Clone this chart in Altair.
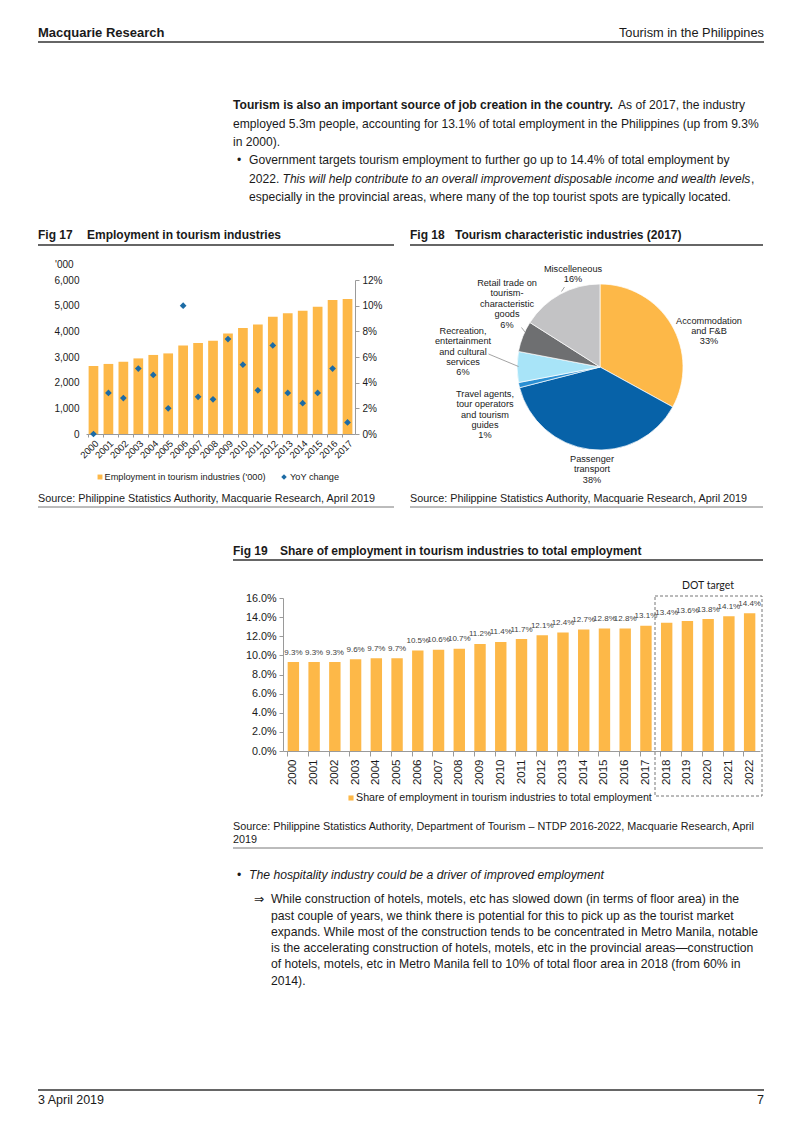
import altair as alt
import pandas as pd

# ---------------- data ----------------
years_17 = ["2000", "2001", "2002", "2003", "2004", "2005", "2006", "2007", "2008",
            "2009", "2010", "2011", "2012", "2013", "2014", "2015", "2016", "2017"]
employment_000 = [2650, 2730, 2815, 2945, 3080, 3140, 3450, 3545, 3635,
                  3920, 4130, 4270, 4570, 4700, 4805, 4960, 5220, 5260]
yoy_change_pct = [0.0, 3.2, 2.8, 5.1, 4.6, 2.0, 10.0, 2.9, 2.7,
                  7.4, 5.4, 3.4, 6.9, 3.2, 2.4, 3.2, 5.1, 0.9]
left_ticks_17 = [0, 1000, 2000, 3000, 4000, 5000, 6000]
right_ticks_17 = [0, 0.02, 0.04, 0.06, 0.08, 0.10, 0.12]

pie_categories = ["Accommodation and F&B", "Passenger transport",
                  "Travel agents, tour operators and tourism guides",
                  "Recreation, entertainment and cultural services",
                  "Retail trade on tourism-characteristic goods", "Miscelleneous"]
pie_shares = [33, 38, 1, 6, 6, 16]
pie_order = [0, 1, 2, 3, 4, 5]

years_19 = ["2000", "2001", "2002", "2003", "2004", "2005", "2006", "2007", "2008",
            "2009", "2010", "2011", "2012", "2013", "2014", "2015", "2016", "2017",
            "2018", "2019", "2020", "2021", "2022"]
share_pct = [9.3, 9.3, 9.3, 9.6, 9.7, 9.7, 10.5, 10.6, 10.7, 11.2, 11.4, 11.7,
             12.1, 12.4, 12.7, 12.8, 12.8, 13.1, 13.4, 13.6, 13.8, 14.1, 14.4]
ticks_19 = [0, 0.02, 0.04, 0.06, 0.08, 0.10, 0.12, 0.14, 0.16]

# ---------------- style ----------------
FONT = "Liberation Sans, Arial, DejaVu Sans, sans-serif"
INK = "#1a1a1a"
ORANGE = "#FDB848"
BLUE = "#1C6BA5"
PIE_COLORS = ["#FDB848", "#0762A8", "#2A8FD3", "#A8E4F8", "#6E6F71", "#C3C3C5"]
AXIS_GRAY = "#9a9a9a"
BODY = 12.1
BODY2 = 12.2

W, H = 786, 1117
M = 8


def X(px):
    return px - M


def Y(py):
    return py - M


one = pd.DataFrame({"k": [0]})


def txt(s, px, py, size=BODY, weight="normal", style="normal", align="left",
        baseline="middle", color=INK, font=FONT, **kw):
    return alt.Chart(one).mark_text(
        text=s, font=font, fontSize=size, fontWeight=weight, fontStyle=style,
        align=align, baseline=baseline, color=color, **kw
    ).encode(x=alt.value(X(px)), y=alt.value(Y(py)))


def hrule(x1, x2, py, color="#333333", w=1.0):
    return alt.Chart(one).mark_rule(color=color, strokeWidth=w).encode(
        x=alt.value(X(x1)), x2=alt.value(X(x2)), y=alt.value(Y(py)))


def seg(x1, y1, x2, y2, color="#8c8c8c", w=0.8):
    return alt.Chart(one).mark_rule(color=color, strokeWidth=w).encode(
        x=alt.value(X(x1)), x2=alt.value(X(x2)), y=alt.value(Y(y1)), y2=alt.value(Y(y2)))


layers = []

# ---------------- page header & intro ----------------
layers += [
    txt("Macquarie Research", 38, 33, size=13, weight="bold"),
    txt("Tourism in the Philippines", 764, 33, size=12.8, align="right"),
    hrule(38, 764, 42, w=1.5),
    txt("Tourism is also an important source of job creation in the country.", 233, 105, weight="bold"),
    txt("As of 2017, the industry", 618, 105),
    txt("employed 5.3m people, accounting for 13.1% of total employment in the Philippines (up from 9.3%", 233, 123.5),
    txt("in 2000).", 233, 142),
    txt("•", 237, 160),
    txt("Government targets tourism employment to further go up to 14.4% of total employment by", 249, 160),
    txt("2022.", 249, 178.5),
    txt("This will help contribute to an overall improvement disposable income and wealth levels", 282.5, 178.5, style="italic"),
    txt(",", 751, 178.5),
    txt("especially in the provincial areas, where many of the top tourist spots are typically located.", 249, 197),
    # figure titles
    txt("Fig 17", 38, 235, size=12, weight="bold"),
    txt("Employment in tourism industries", 87, 235, size=12, weight="bold"),
    hrule(38, 394, 245, w=1.3),
    txt("Fig 18", 410, 235, size=12, weight="bold"),
    txt("Tourism characteristic industries (2017)", 455, 235, size=12, weight="bold"),
    hrule(410, 763, 245, w=1.3),
    txt("'000", 55, 265, size=10),
]

# ---------------- Fig 17 ----------------
df17 = pd.DataFrame({"year": years_17, "emp": employment_000,
                     "yoy": [v / 100 for v in yoy_change_pct]})
x17 = alt.Scale(domain=years_17, range=[X(86), X(355)], paddingInner=0.35, paddingOuter=0.175)
bars17 = alt.Chart(df17).mark_bar(color=ORANGE).encode(
    x=alt.X("year:O", scale=x17, axis=alt.Axis(
        title=None, orient="bottom", offset=Y(434) - H, labelAngle=-45, labelFontSize=9.5,
        labelFont=FONT, labelColor=INK, domainColor=AXIS_GRAY, tickColor=AXIS_GRAY,
        tickSize=3, bandPosition=0, labelPadding=1, labelOverlap=False)),
    y=alt.Y("emp:Q", scale=alt.Scale(domain=[0, 6000], range=[Y(434), Y(280)], nice=False),
            axis=alt.Axis(title=None, orient="left", offset=-X(86), values=left_ticks_17,
                          format=",.0f", domain=False, ticks=False, grid=False, labelPadding=7,
                          labelFontSize=10, labelFont=FONT, labelColor=INK)),
)
pts17 = alt.Chart(df17).mark_point(shape="diamond", filled=True, size=45, color=BLUE, opacity=1).encode(
    x=alt.X("year:O", scale=x17, axis=None),
    y=alt.Y("yoy:Q", scale=alt.Scale(domain=[0, 0.12], range=[Y(434), Y(280)], nice=False),
            axis=alt.Axis(title=None, orient="right", offset=X(355) - W, values=right_ticks_17,
                          format=".0%", domainColor=AXIS_GRAY, tickColor=AXIS_GRAY, tickSize=4,
                          labelPadding=3, grid=False, labelFontSize=10, labelFont=FONT,
                          labelColor=INK)),
)
layers += [bars17, pts17]
layers += [
    alt.Chart(one).mark_square(color=ORANGE, size=24, opacity=1).encode(x=alt.value(X(100)), y=alt.value(Y(477))),
    txt("Employment in tourism industries ('000)", 104.5, 477, size=9.2),
    alt.Chart(one).mark_point(shape="diamond", filled=True, color=BLUE, size=30, opacity=1).encode(x=alt.value(X(284)), y=alt.value(Y(477))),
    txt("YoY change", 290, 477, size=9.2),
]

# ---------------- Fig 18 (pie) ----------------
dfpie = pd.DataFrame({"cat": pie_categories, "share": pie_shares, "ord": pie_order})
arc = alt.Chart(dfpie).mark_arc(radius=83, stroke="white", strokeWidth=0.7).encode(
    theta=alt.Theta("share:Q", stack=True),
    order=alt.Order("ord:Q"),
    color=alt.Color("cat:N", scale=alt.Scale(domain=pie_categories, range=PIE_COLORS), legend=None),
    x=alt.value(X(600)), y=alt.value(Y(367)),
)
layers.append(arc)

PL = 10.4  # line height of pie labels
PS = 9.2


def ptxt(lines, cx, first_center):
    return txt(lines, cx, first_center - 4.2, size=PS, align="center", baseline="top",
               lineHeight=PL)


layers += [
    ptxt(["Miscelleneous", "16%"], 573, 269),
    ptxt(["Retail trade on", "tourism-", "characteristic", "goods", "6%"], 507, 283.3),
    ptxt(["Recreation,", "entertainment", "and cultural", "services", "6%"], 463, 331),
    ptxt(["Travel agents,", "tour operators", "and tourism", "guides", "1%"], 485, 394),
    ptxt(["Passenger", "transport", "38%"], 592, 459),
    ptxt(["Accommodation", "and F&B", "33%"], 709, 320.7),
    seg(561.5, 291.5, 564.5, 287),
    seg(521.5, 327.5, 525, 332),
    seg(488.5, 354, 518.5, 366.5),
]

# ---------------- sources & Fig 19 title ----------------
layers += [
    txt("Source: Philippine Statistics Authority, Macquarie Research, April 2019", 38, 499, size=10.8),
    hrule(38, 394, 507, color="#555555", w=0.8),
    txt("Source: Philippine Statistics Authority, Macquarie Research, April 2019", 410, 499, size=10.8),
    hrule(410, 763, 507, color="#555555", w=0.8),
    txt("Fig 19", 233, 551, size=12, weight="bold"),
    txt("Share of employment in tourism industries to total employment", 280, 551, size=12, weight="bold"),
    hrule(233, 763, 560, w=1.3),
]

# ---------------- Fig 19 ----------------
df19 = pd.DataFrame({"year": years_19, "share": [v / 100 for v in share_pct]})
x19 = alt.Scale(domain=years_19, range=[X(283), X(760)], paddingInner=0.45, paddingOuter=0.225)
y19 = alt.Scale(domain=[0, 0.16], range=[Y(751), Y(598)], nice=False)
bars19 = alt.Chart(df19).mark_bar(color=ORANGE).encode(
    x=alt.X("year:O", scale=x19, axis=alt.Axis(
        title=None, orient="bottom", offset=Y(751) - H, labelAngle=-90, labelFontSize=11.5,
        labelFont=FONT, labelColor=INK, domainColor=AXIS_GRAY, tickColor=AXIS_GRAY,
        tickSize=5, bandPosition=0, labelPadding=3, labelOverlap=False)),
    y=alt.Y("share:Q", scale=y19, axis=alt.Axis(
        title=None, orient="left", offset=-X(283), values=ticks_19, format=".1%",
        domainColor=AXIS_GRAY, tickColor=AXIS_GRAY, tickSize=4, labelPadding=3, grid=False,
        labelFontSize=10.8, labelFont=FONT, labelColor=INK)),
)
lab19 = alt.Chart(df19).mark_text(fontSize=8, color="#404040", baseline="middle", dy=-9.5, font=FONT).encode(
    x=alt.X("year:O", scale=x19, axis=None),
    y=alt.Y("share:Q", scale=y19, axis=None),
    text=alt.Text("share:Q", format=".1%"),
)
dot_box = alt.Chart(one).mark_rect(fillOpacity=0, stroke="#777777", strokeDash=[3, 2], strokeWidth=1).encode(
    x=alt.value(X(655)), x2=alt.value(X(762)), y=alt.value(Y(596)), y2=alt.value(Y(796)))
layers += [bars19, lab19, dot_box,
           txt("DOT target", 708, 586, size=10.5, align="center", font="Lato, Liberation Sans, sans-serif"),
           alt.Chart(one).mark_square(color=ORANGE, size=26, opacity=1).encode(x=alt.value(X(351)), y=alt.value(Y(798))),
           txt("Share of employment in tourism industries to total employment", 356, 798, size=10.7)]

# ---------------- bottom text ----------------
layers += [
    txt("Source: Philippine Statistics Authority, Department of Tourism \u2013 NTDP 2016-2022, Macquarie Research, April", 233, 827, size=10.8),
    txt("2019", 233, 840, size=10.8),
    hrule(233, 763, 848, color="#555555", w=0.8),
    txt("•", 237, 875, size=BODY2),
    txt("The hospitality industry could be a driver of improved employment", 249, 875, size=BODY2, style="italic"),
    txt("\u21d2", 259, 899, size=BODY2, align="center"),
    txt("While construction of hotels, motels, etc has slowed down (in terms of floor area) in the", 271, 899, size=BODY2),
    txt("past couple of years, we think there is potential for this to pick up as the tourist market", 271, 916, size=BODY2),
    txt("expands. While most of the construction tends to be concentrated in Metro Manila, notable", 271, 932, size=BODY2),
    txt("is the accelerating construction of hotels, motels, etc in the provincial areas\u2014construction", 271, 948, size=BODY2),
    txt("of hotels, motels, etc in Metro Manila fell to 10% of total floor area in 2018 (from 60% in", 271, 964, size=BODY2),
    txt("2014).", 271, 981, size=BODY2),
    hrule(38, 764, 1090, w=1.5),
    txt("3 April 2019", 38, 1100, size=12.5),
    txt("7", 764, 1100, size=12.5, align="right"),
]

chart = alt.layer(*layers).resolve_scale(
    x="independent", y="independent"
).properties(
    width=W, height=H, padding=0, autosize=alt.AutoSizeParams(type="none")
).configure_view(strokeWidth=0)

chart.save("out.html", embed_options={"renderer": "svg", "actions": False})
